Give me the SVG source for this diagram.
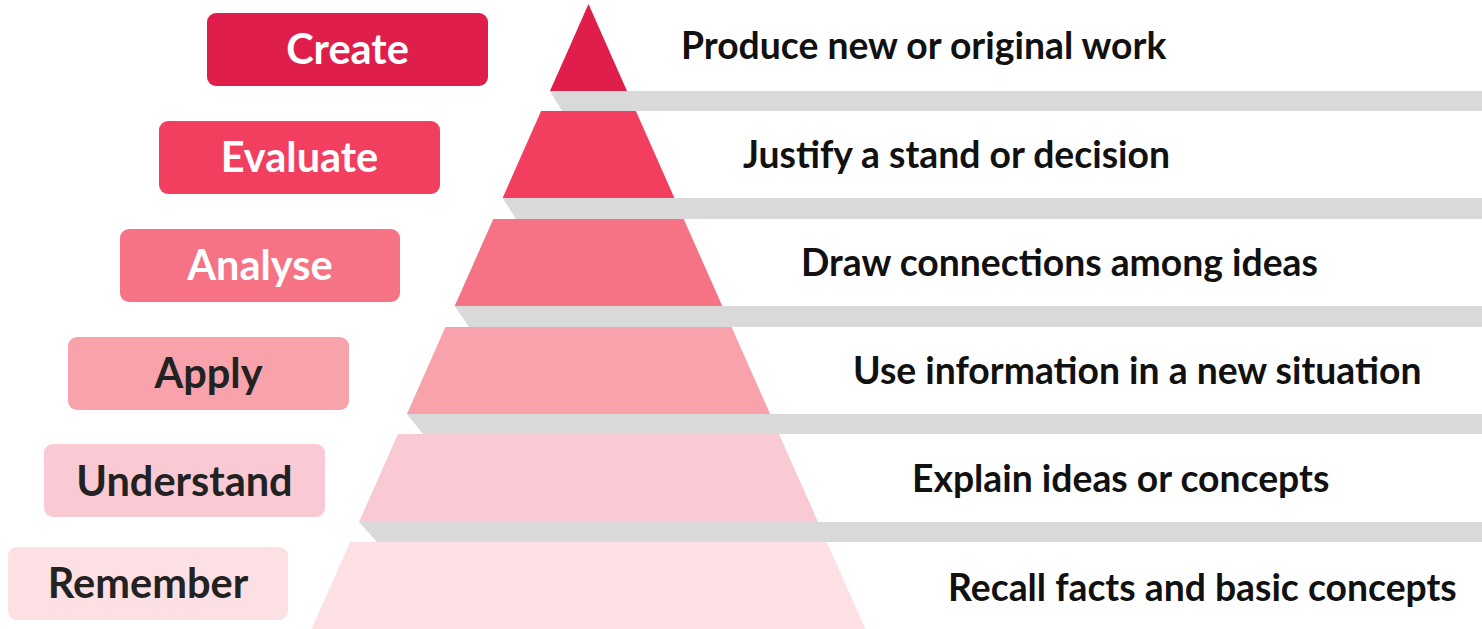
<svg xmlns="http://www.w3.org/2000/svg" width="1482" height="629" viewBox="0 0 1482 629">
<style>
.lbl{font-family:Lato,"Noto Sans","Liberation Sans",sans-serif;font-weight:700;font-size:41.5px;text-anchor:middle}
.w{fill:#ffffff}
.d{fill:#222222}
.desc{font-family:Lato,"Noto Sans","Liberation Sans",sans-serif;font-weight:700;font-size:37.3px;fill:#111111}
.bar{fill:#d9d9d9}
</style>
<rect width="1482" height="629" fill="#ffffff"/>
<g id="shelves">
<polygon class="bar" points="550,91 1482,91 1482,111 562,111"/>
<polygon class="bar" points="502.6,198 1482,198 1482,219 516,219"/>
<polygon class="bar" points="454.7,306 1482,306 1482,327 469,327"/>
<polygon class="bar" points="406.9,414 1482,414 1482,434 423,434"/>
<polygon class="bar" points="359,522 1482,522 1482,542 377,542"/>
</g>
<g id="create">
<polygon points="588.5,4 627,91 550,91" fill="#e01e4b"/>
<rect x="207" y="13" width="281" height="73" rx="9" fill="#e01e4b"/>
<text class="lbl w" x="347.5" y="64">Create</text>
<text class="desc" x="681" y="59">Produce new or original work</text>
</g>
<g id="evaluate">
<polygon points="541.1,111 635.9,111 674.4,198 502.6,198" fill="#f33f5f"/>
<rect x="159" y="121" width="281" height="73" rx="9" fill="#f33f5f"/>
<text class="lbl w" x="299.5" y="172">Evaluate</text>
<text class="desc" x="743" y="168">Justify a stand or decision</text>
</g>
<g id="analyse">
<polygon points="493.3,219 683.7,219 722.3,306 454.7,306" fill="#f57385"/>
<rect x="120" y="229" width="280" height="73" rx="9" fill="#f57385"/>
<text class="lbl w" x="260" y="280">Analyse</text>
<text class="desc" x="801" y="276">Draw connections among ideas</text>
</g>
<g id="apply">
<polygon points="445.4,327 731.6,327 770.1,414 406.9,414" fill="#f8a3ab"/>
<rect x="68" y="337" width="281" height="73" rx="9" fill="#f8a3ab"/>
<text class="lbl d" x="208.5" y="388">Apply</text>
<text class="desc" x="853" y="384">Use information in a new situation</text>
</g>
<g id="understand">
<polygon points="398,434 779,434 818,522 359,522" fill="#f9cad3"/>
<rect x="44" y="444" width="281" height="73" rx="9" fill="#f9cad3"/>
<text class="lbl d" x="184.5" y="496">Understand</text>
<text class="desc" x="912" y="492">Explain ideas or concepts</text>
</g>
<g id="remember">
<polygon points="350.2,542 826.8,542 865.4,629 311.6,629" fill="#fde0e3"/>
<rect x="8" y="547" width="280" height="73" rx="9" fill="#fde0e3"/>
<text class="lbl d" x="148" y="598">Remember</text>
<text class="desc" x="948" y="601">Recall facts and basic concepts</text>
</g>
</svg>
